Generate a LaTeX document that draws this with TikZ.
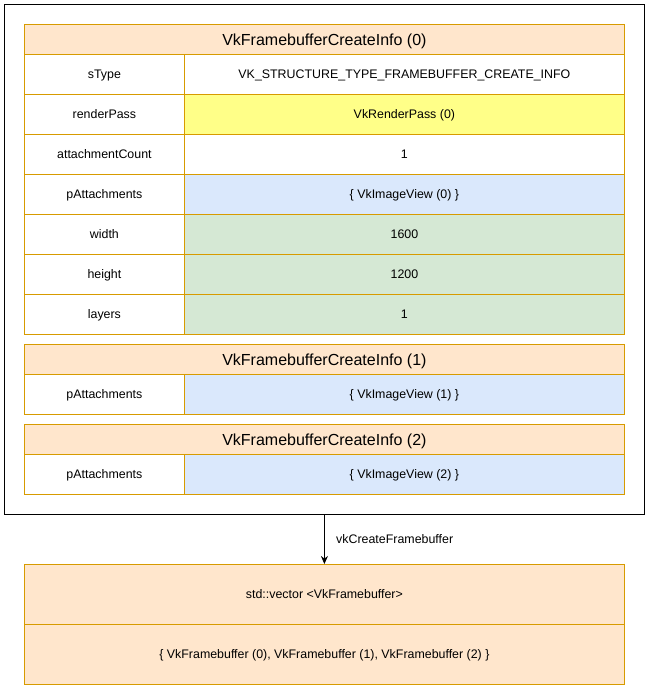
\documentclass[tikz,border=0pt]{standalone}
\usepackage{fontspec}
\setmainfont{Liberation Sans}
\usetikzlibrary{arrows.meta}
\definecolor{hdrfill}{HTML}{FFE6CC}
\definecolor{hdrline}{HTML}{D79B00}
\definecolor{yelfill}{HTML}{FFFF88}
\definecolor{bluefill}{HTML}{DAE8FC}
\definecolor{greenfill}{HTML}{D5E8D4}
\begin{document}
\begin{tikzpicture}[x=1pt,y=-1pt,
  cell/.style={draw=hdrline, line width=0.8pt, inner sep=0pt, anchor=north west,
    minimum height=40pt, text height=8.5pt, text depth=0.5pt,
    font=\fontsize{12.4}{14}\selectfont},
  keycell/.style={cell, fill=white, minimum width=160pt},
  valcell/.style={cell, minimum width=440pt},
  header/.style={draw=hdrline, fill=hdrfill, line width=0.8pt, inner sep=0pt, anchor=north west,
    minimum width=600pt, minimum height=30pt, text height=12.5pt, text depth=0pt,
    font=\fontsize{16}{19}\selectfont},
  outer/.style={draw=black, line width=1.1pt, inner sep=0pt, anchor=north west,
    minimum width=640pt, minimum height=510pt},
  result/.style={draw=hdrline, fill=hdrfill, line width=0.8pt, inner sep=0pt, anchor=north west,
    minimum width=600pt, minimum height=60pt, text height=8.5pt, text depth=0.5pt,
    font=\fontsize{12.4}{14}\selectfont}]
\useasboundingbox (0,0) rectangle (649,689);

% enclosing frame around the three create-info structures
\node[outer] (frame) at (4,4) {};

% VkFramebufferCreateInfo (0)
\node[header] (h0) at (24,24) {VkFramebufferCreateInfo (0)};
\node[keycell] (k1) at (24,54)  {sType};
\node[valcell, fill=white] (v1) at (184,54) {VK\_STRUCTURE\_TYPE\_FRAMEBUFFER\_CREATE\_INFO};
\node[keycell] (k2) at (24,94)  {renderPass};
\node[valcell, fill=yelfill] (v2) at (184,94) {VkRenderPass (0)};
\node[keycell] (k3) at (24,134) {attachmentCount};
\node[valcell, fill=white] (v3) at (184,134) {1};
\node[keycell] (k4) at (24,174) {pAttachments};
\node[valcell, fill=bluefill] (v4) at (184,174) {\{ VkImageView (0) \}};
\node[keycell] (k5) at (24,214) {width};
\node[valcell, fill=greenfill] (v5) at (184,214) {1600};
\node[keycell] (k6) at (24,254) {height};
\node[valcell, fill=greenfill] (v6) at (184,254) {1200};
\node[keycell] (k7) at (24,294) {layers};
\node[valcell, fill=greenfill] (v7) at (184,294) {1};

% VkFramebufferCreateInfo (1)
\node[header] (h1) at (24,344) {VkFramebufferCreateInfo (1)};
\node[keycell] (k8) at (24,374) {pAttachments};
\node[valcell, fill=bluefill] (v8) at (184,374) {\{ VkImageView (1) \}};

% VkFramebufferCreateInfo (2)
\node[header] (h2) at (24,424) {VkFramebufferCreateInfo (2)};
\node[keycell] (k9) at (24,454) {pAttachments};
\node[valcell, fill=bluefill] (v9) at (184,454) {\{ VkImageView (2) \}};

% resulting vector of framebuffers
\node[result] (r1) at (24,564) {std::vector <VkFramebuffer>};
\node[result] (r2) at (24,624) {\{ VkFramebuffer (0), VkFramebuffer (1), VkFramebuffer (2) \}};

% creation call
\draw[line width=0.8pt, -{Stealth[length=8pt,width=7pt]}] (frame.south) -- (r1.north)
  node[midway, right=8pt, font=\fontsize{12.4}{14}\selectfont] (lbl) {vkCreateFramebuffer};
\end{tikzpicture}
\end{document}
